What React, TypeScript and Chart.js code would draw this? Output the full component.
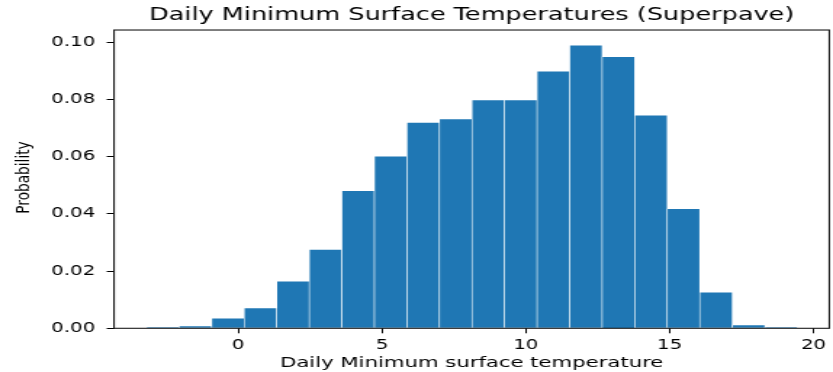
import React, { useEffect, useRef } from "react";
import { Chart, registerables } from "chart.js";

Chart.register(...registerables);

const chartTitle = "Daily Minimum Surface Temperatures (Superpave)";
const xAxisTitle = "Daily Minimum surface temperature";
const yAxisTitle = "Probability";

// histogram bin centres (bin width ~1.131)
const binCenters = [
  -2.621, -1.49, -0.358, 0.773, 1.905, 3.036, 4.167, 5.299, 6.43, 7.561,
  8.693, 9.824, 10.956, 12.087, 13.218, 14.35, 15.481, 16.612, 17.744, 18.875,
];
const probabilities = [
  0.0003, 0.0008, 0.0035, 0.0071, 0.0165, 0.0276, 0.0481, 0.0602, 0.072, 0.0732,
  0.0798, 0.0798, 0.0899, 0.099, 0.095, 0.0745, 0.0418, 0.0126, 0.0012, 0.0003,
];
const xTickValues = [0, 5, 10, 15, 20];
const yTickValues = [0, 0.02, 0.04, 0.06, 0.08, 0.1];

const X_MIN = -4.32;
const X_MAX = 20.55;
const Y_MAX = 0.1043;

// backing canvas is narrower and stretched horizontally by CSS
const CSS_W = 833;
const CSS_H = 372;
const BACK_W = 574;

const FONT = "DejaVu Sans";

const framePlugin = {
  id: "frame",
  afterDatasetsDraw(chart: any) {
    const { ctx, chartArea } = chart;
    ctx.save();
    ctx.strokeStyle = "#1a1a1a";
    ctx.lineWidth = 1.1;
    ctx.strokeRect(
      chartArea.left,
      chartArea.top,
      chartArea.right - chartArea.left,
      chartArea.bottom - chartArea.top
    );
    ctx.restore();
  },
};

const yTitlePlugin = {
  id: "yTitle",
  afterDraw(chart: any) {
    const { ctx } = chart;
    ctx.save();
    ctx.translate(17.4, 177.5);
    ctx.rotate(-Math.PI / 2);
    ctx.scale(1, 0.86);
    ctx.font = `13.7px "${FONT}"`;
    ctx.fillStyle = "#000";
    ctx.textAlign = "center";
    ctx.textBaseline = "middle";
    ctx.fillText(yAxisTitle, 0, 0);
    ctx.restore();
  },
};

export default function App() {
  const ref = useRef<HTMLCanvasElement>(null);

  useEffect(() => {
    const canvas = ref.current;
    if (!canvas) return;
    const chart = new Chart(canvas, {
      type: "bar",
      data: {
        datasets: [
          {
            data: binCenters.map((x, i) => ({ x, y: probabilities[i] })),
            backgroundColor: "#1f77b4",
            borderColor: "#ffffff",
            borderWidth: { top: 0.6, left: 0.6, right: 0.6, bottom: 0 },
            borderSkipped: false,
            barPercentage: 1,
            categoryPercentage: 1,
          },
        ],
      },
      options: {
        responsive: false,
        animation: false,
        devicePixelRatio: 1,
        layout: { padding: { left: 0, right: 2.54, top: 0, bottom: 0 } },
        plugins: {
          legend: { display: false },
          tooltip: { enabled: false },
          title: {
            display: true,
            text: chartTitle,
            fullSize: false,
            color: "#000",
            font: { family: FONT, size: 17.6, weight: "normal" },
            padding: { top: 5.3, bottom: 3.6 },
          },
        },
        scales: {
          x: {
            type: "linear",
            min: X_MIN,
            max: X_MAX,
            offset: false,
            afterBuildTicks: (scale: any) => {
              scale.ticks = xTickValues.map((v) => ({ value: v }));
            },
            afterFit: (scale: any) => {
              scale.height = 43.7;
            },
            grid: {
              offset: false,
              drawOnChartArea: false,
              drawTicks: true,
              tickLength: 5,
              color: "#000",
              tickColor: "#000",
              tickWidth: 1,
            },
            border: { display: false },
            ticks: {
              color: "#000",
              font: { family: FONT, size: 13.6 },
              padding: 4,
              maxRotation: 0,
              autoSkip: false,
              callback: (v: any) => String(v),
            },
            title: {
              display: true,
              text: xAxisTitle,
              color: "#000",
              font: { family: FONT, size: 14.6 },
              padding: { top: 0, bottom: 0 },
            },
          },
          y: {
            type: "linear",
            min: 0,
            max: Y_MAX,
            afterBuildTicks: (scale: any) => {
              scale.ticks = yTickValues.map((v) => ({ value: v }));
            },
            afterFit: (scale: any) => {
              scale.width = 78.56;
            },
            grid: {
              drawOnChartArea: false,
              drawTicks: true,
              tickLength: 5,
              color: "#000",
              tickColor: "#000",
              tickWidth: 1,
            },
            border: { display: false },
            ticks: {
              color: "#000",
              font: { family: FONT, size: 13.6 },
              padding: 8,
              autoSkip: false,
              callback: (v: any) => Number(v).toFixed(2),
            },
            title: { display: false },
          },
        },
      } as any,
      plugins: [framePlugin, yTitlePlugin],
    });
    return () => chart.destroy();
  }, []);

  return (
    <div
      style={{
        position: "fixed",
        left: 0,
        top: 0,
        width: CSS_W,
        height: CSS_H,
        background: "#fff",
      }}
    >
      <canvas
        ref={ref}
        width={BACK_W}
        height={CSS_H}
        style={{ width: `${CSS_W}px`, height: `${CSS_H}px`, display: "block" }}
      />
    </div>
  );
}
